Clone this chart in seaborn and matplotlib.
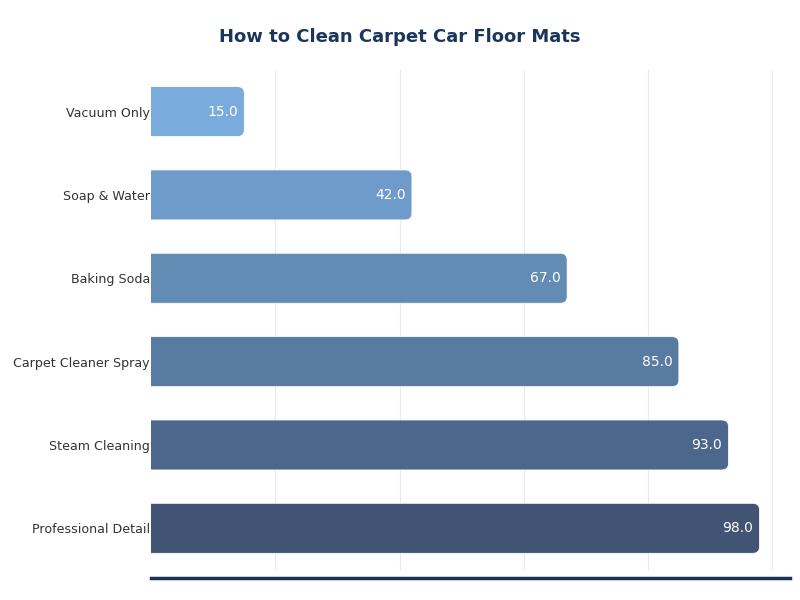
import numpy as np
import pandas as pd
import matplotlib
matplotlib.use("Agg")
import matplotlib.pyplot as plt
import seaborn as sns
from matplotlib.patches import FancyBboxPatch

# data
methods = ["Vacuum Only", "Soap & Water", "Baking Soda",
           "Carpet Cleaner Spray", "Steam Cleaning", "Professional Detail"]
scores = [15.0, 42.0, 67.0, 85.0, 93.0, 98.0]
bar_colors = ["#72a8dc", "#6696c6", "#5b86b0", "#4e749c", "#435f86", "#374b6c"]

df = pd.DataFrame({"Method": methods, "Score": scores})

sns.set_style("white")
plt.rcParams['font.family'] = ['DejaVu Sans']

fig = plt.figure(figsize=(8, 6), dpi=100)
ax = fig.add_axes([0.189, 0.05, 0.7985, 0.8335])

sns.barplot(data=df, x="Score", y="Method", hue="Method", palette=bar_colors,
            legend=False, width=0.6, ax=ax, orient="h")

xmax = max(scores) * 1.05
ax.set_xlim(0, xmax)
ax.set_ylim(len(methods) - 0.5, -0.5)

# swap plain bars for rounded ones
for patch, col in zip(list(ax.patches), bar_colors):
    x0, y0 = patch.get_x(), patch.get_y()
    w, h = patch.get_width(), patch.get_height()
    patch.remove()
    box = FancyBboxPatch((x0 - 2, y0), w + 2, h,
                         boxstyle="round,pad=0,rounding_size=1.1",
                         mutation_aspect=0.072,
                         facecolor=col, edgecolor="#ffffff", linewidth=0.6,
                         alpha=0.95, zorder=2)
    ax.add_patch(box)

for i, v in enumerate(scores):
    ax.text(v - 1.0, i, f"{v:.1f}", ha="right", va="center",
            color="white", fontsize=10, zorder=3)

ax.set_xticks([20, 40, 60, 80, 100])
ax.set_xticklabels([])
ax.grid(axis="x", color="#e8e8e8", linewidth=0.8, zorder=0)
ax.set_axisbelow(True)
ax.tick_params(axis="both", length=0)
ax.tick_params(axis="y", pad=1, labelsize=9.1, labelcolor="#333333")
ax.set_xlabel("")
ax.set_ylabel("")

for s in ["top", "right", "left"]:
    ax.spines[s].set_visible(False)
ax.spines["bottom"].set_color("#1a3358")
ax.spines["bottom"].set_linewidth(2.5)
ax.spines["bottom"].set_position(("outward", 6))

fig.suptitle("How to Clean Carpet Car Floor Mats", fontsize=13, fontweight="bold",
             color="#1b365d", y=0.953, x=0.5)

fig.savefig("out.png", dpi=100)
